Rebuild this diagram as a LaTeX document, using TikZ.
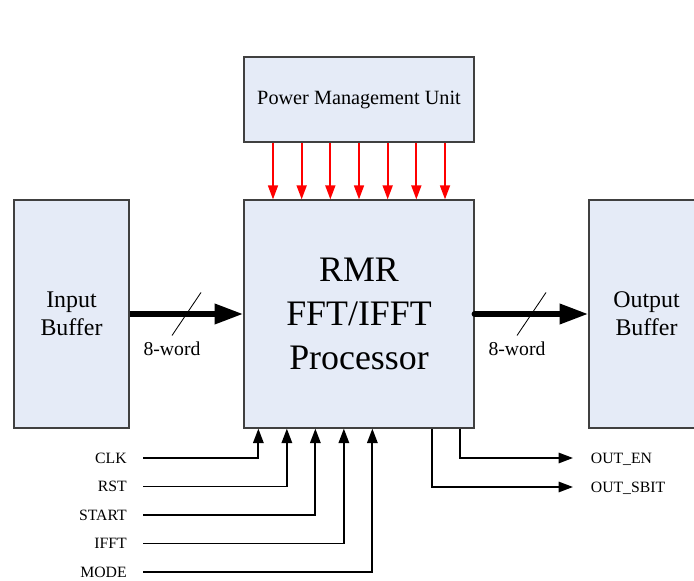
\documentclass[tikz,border=0pt]{standalone}
\usepackage{fontspec}
\setmainfont{Liberation Serif}
\usetikzlibrary{calc,positioning,arrows.meta}
\definecolor{CBOX}{RGB}{229,235,247}
\definecolor{CEDGE}{RGB}{64,64,64}
\definecolor{CPWR}{RGB}{255,0,0}
\definecolor{CSIG}{RGB}{0,0,0}

\begin{document}
\begin{tikzpicture}[
  blk/.style={draw=CEDGE,fill=CBOX,line width=0.9pt,inner sep=0pt,align=center},
  bus/.style={CSIG,line width=4.3pt,-{Triangle[length=0.72cm,width=0.48cm]}},
  pwr/.style={CPWR,line width=1.2pt,-{Triangle[length=0.35cm,width=0.25cm]}},
  sig/.style={CSIG,line width=1.3pt,-{Triangle[length=0.36cm,width=0.26cm]}},
  pin/.style={font=\fontsize{11.2}{13}\selectfont,inner xsep=0.4cm,inner ysep=0pt,text depth=0pt},
  buslbl/.style={font=\fontsize{14}{16}\selectfont,inner sep=0pt}]
  \useasboundingbox (0,0) rectangle (17.35,14.525);
  % — blocks
  \node[blk,minimum width=5.75cm,minimum height=2.125cm,font=\fontsize{14.4}{17}\selectfont] (pmu) at (8.9750cm,12.0375cm) {Power Management Unit};
  \node[blk,minimum width=5.75cm,minimum height=5.7cm,font=\fontsize{25.5}{31.3}\selectfont] (proc) at (8.9750cm,6.6750cm) {RMR\\FFT/IFFT\\Processor};
  \node[blk,minimum width=2.875cm,minimum height=5.7cm,font=\fontsize{17}{19.9}\selectfont] (inbuf) at (1.7875cm,6.6750cm) {Input\\Buffer};
  \node[blk,minimum width=2.875cm,minimum height=5.7cm,font=\fontsize{17}{19.9}\selectfont] (outbuf) at (16.1625cm,6.6750cm) {Output\\Buffer};
  % — power control lines
  \foreach \k in {-3,...,3}
    \draw[pwr] ([xshift=\k*0.7167cm]pmu.south) -- ([xshift=\k*0.7167cm]proc.north);
  % — 8-word data buses
  \draw[bus] (inbuf.east) -- (proc.west);
  \draw[bus,line cap=round] (proc.east) -- (outbuf.west);
  \coordinate (inmid) at ($(inbuf.east)!0.5!(proc.west)$);
  \coordinate (outmid) at ($(proc.east)!0.5!(outbuf.west)$);
  \draw[line width=0.6pt] (inmid) ++(-0.3625,-0.5375) -- ++(0.7250,1.0750);
  \draw[line width=0.6pt] (outmid) ++(-0.3625,-0.5375) -- ++(0.7250,1.0750);
  \node[buslbl] (inword) at ($(inmid)+(-0.3625,-0.8750)$) {8-word};
  \node[buslbl] (outword) at ($(outmid)+(-0.3625,-0.8750)$) {8-word};
  % — control inputs
  \foreach \nm/\lbl [count=\i from 0] in {clk/CLK,rst/RST,start/START,ifft/IFFT,mode/MODE} {
    \node[pin,anchor=east] (\nm) at (3.5750cm,{3.0750-\i*0.7125}) {\lbl};
    \draw[sig] (\nm.east) -| ([xshift={0.375cm+\i*0.7125cm}]proc.south west);
  }
  % — status outputs
  \node[pin,anchor=west,inner xsep=0.44cm] (outen) at (14.3250cm,3.0750cm) {OUT\_EN};
  \node[pin,anchor=west,inner xsep=0.44cm] (outsbit) at (14.3250cm,2.3500cm) {OUT\_SBIT};
  \draw[sig] ([xshift=-0.375cm]proc.south east) |- (outen.west);
  \draw[sig] ([xshift=-1.075cm]proc.south east) |- (outsbit.west);
\end{tikzpicture}
\end{document}
